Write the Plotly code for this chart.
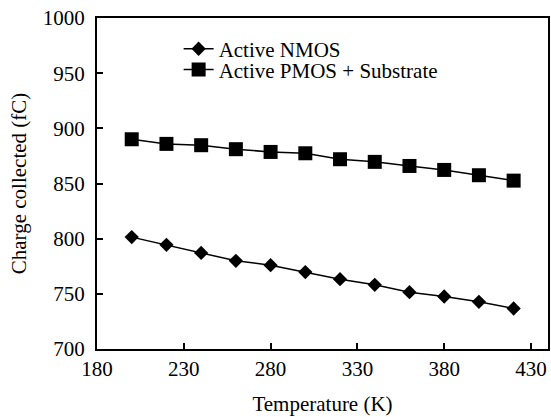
import plotly.graph_objects as go

temperature = [200, 220, 240, 260, 280, 300, 320, 340, 360, 380, 400, 420]
nmos = [801.4, 794.4, 787.1, 779.9, 776.0, 769.7, 763.3, 758.2, 751.5, 747.6, 742.8, 736.7]
pmos_sub = [890.1, 885.9, 884.7, 881.1, 878.6, 877.4, 872.0, 869.6, 865.9, 862.3, 857.5, 852.6]
x_ticks = [180, 230, 280, 330, 380, 430]
y_ticks = [700, 750, 800, 850, 900, 950, 1000]

font = dict(family="Liberation Serif, Times New Roman, serif", size=21, color="black")

fig = go.Figure()
fig.add_trace(go.Scatter(
    x=temperature, y=nmos, mode="lines+markers", name="Active NMOS",
    line=dict(color="black", width=1.5),
    marker=dict(symbol="diamond", size=11, color="black"),
    legend="legend",
))
fig.add_trace(go.Scatter(
    x=temperature, y=pmos_sub, mode="lines+markers", name="Active PMOS + Substrate",
    line=dict(color="black", width=1.5),
    marker=dict(symbol="square", size=14, color="black"),
    legend="legend2",
))

leg_common = dict(xanchor="left", yanchor="middle", bgcolor="rgba(0,0,0,0)",
                  font=font, borderwidth=0)

fig.update_layout(
    width=551, height=417,
    margin=dict(l=97, r=3, t=18, b=68),
    paper_bgcolor="white", plot_bgcolor="white",
    font=font,
    showlegend=True,
    legend=dict(x=0.181, y=0.906, **leg_common),
    legend2=dict(x=0.181, y=0.843, **leg_common),
)
fig.update_xaxes(
    range=[180, 439.8], tickvals=x_ticks, ticks="inside", ticklen=6,
    tickcolor="black", tickwidth=1.5, automargin=False,
    showline=True, linecolor="black", linewidth=2, mirror=True,
    showgrid=False, zeroline=False, tickfont=font,
    title=dict(text="Temperature (K)", font=font, standoff=16),
)
fig.update_yaxes(
    range=[700, 1000], tickvals=y_ticks, ticks="inside", ticklen=6,
    tickcolor="black", tickwidth=1.5, automargin=False,
    showline=True, linecolor="black", linewidth=2, mirror=True,
    showgrid=False, zeroline=False, tickfont=font, ticklabelstandoff=6,
    title=dict(text="Charge collected (fC)", font=font, standoff=10),
)

fig.write_html("out.html", config={"displayModeBar": False},
               post_script="document.body.style.margin='0';")
